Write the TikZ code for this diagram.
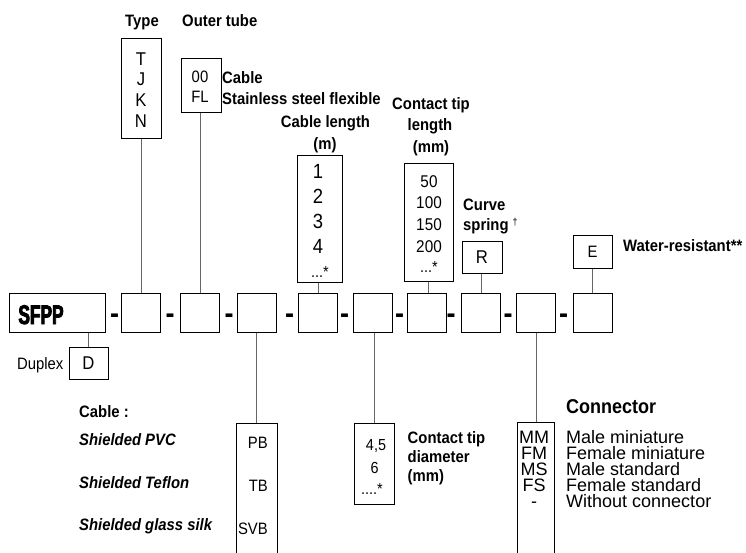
\documentclass[tikz,border=0pt]{standalone}
\usepackage{fontspec}
\setmainfont[FakeStretch=0.9]{Liberation Sans}
\newfontfamily\plainfont{Liberation Sans}
\newfontfamily\sfppfont[FakeStretch=0.64,FakeBold=3]{Liberation Sans}
\begin{document}
\begin{tikzpicture}[x=1pt,y=-1pt,
  box/.style={draw=black,line width=1pt,inner sep=0pt,minimum width=39pt,minimum height=39pt},
  conn/.style={draw=black!60,line width=1pt},
  blab/.style={inner sep=0pt,font=\fontsize{16.5}{16.5}\selectfont\bfseries},
  ilab/.style={inner sep=0pt,font=\fontsize{16.5}{16.5}\selectfont\bfseries\itshape},
  rt/.style={inner sep=0pt,font=\fontsize{#1}{#1}\selectfont},
  dt/.style={inner sep=0pt,font=\plainfont\fontsize{#1}{#1}\selectfont},
  dashmark/.style={inner sep=0pt,font=\fontsize{30}{30}\selectfont\bfseries}]
\useasboundingbox (0,0) rectangle (746,552);

% main row
\node[box,minimum width=96pt] (sfpp) at (57,312.5) {};
\node[inner sep=0pt,font=\sfppfont\fontsize{27}{27}\selectfont\bfseries,anchor=base] (sfpptxt) at (41,324) {SFPP};
\foreach \x [count=\i] in {140.5,199.5,256.5,317.5,372.5,426.5,480.5,536,592.5}
  \node[box] (b\i) at (\x,312.5) {};
\foreach \x [count=\i] in {114.5,170,229,289.5,344.5,399.5,451,508,563.5}
  \node[dashmark,anchor=base] (d\i) at (\x,323) {-};

% option boxes
\node[box,minimum width=40pt,minimum height=100pt] (typebox) at (141,88) {};
\node[box,minimum width=40pt,minimum height=54pt] (tubebox) at (201,85) {};
\node[box,minimum width=45pt,minimum height=127pt] (lenbox) at (319.5,218.5) {};
\node[box,minimum width=49pt,minimum height=118pt] (tipbox) at (428.5,222) {};
\node[box,minimum width=40pt,minimum height=32pt,font=\fontsize{18.5}{18.5}\selectfont] (rbox) at (482,257) {R};
\node[box,minimum width=39pt,minimum height=33pt,font=\fontsize{16.5}{16.5}\selectfont] (ebox) at (592.5,251.5) {E};
\node[box,minimum width=39pt,minimum height=32pt,font=\fontsize{18.5}{18.5}\selectfont] (dbox) at (88.5,363) {D};
\node[box,minimum width=41pt,minimum height=160pt] (cablebox) at (256.5,503) {};
\node[box,minimum width=40pt,minimum height=81pt] (diambox) at (374,463.5) {};
\node[box,minimum width=37pt,minimum height=160pt] (connbox) at (535.5,502) {};

% connectors
\draw[conn] (typebox.south) -- (typebox.south |- b1.north);
\draw[conn] ([xshift=-1pt]tubebox.south) -- ([xshift=-1pt]tubebox.south |- b2.north);
\draw[conn] ([xshift=-1.5pt]lenbox.south) -- ([xshift=-1.5pt]lenbox.south |- b4.north);
\draw[conn] (tipbox.south) -- (tipbox.south |- b6.north);
\draw[conn] ([xshift=-1pt]rbox.south) -- ([xshift=-1pt]rbox.south |- b7.north);
\draw[conn] (ebox.south) -- (ebox.south |- b9.north);
\draw[conn] (dbox.north |- sfpp.south) -- (dbox.north);
\draw[conn] (b3.south) -- (b3.south |- cablebox.north);
\draw[conn] (diambox.north |- b5.south) -- (diambox.north);
\draw[conn] (b8.south) -- (b8.south |- connbox.north);

% top labels
\node[blab,anchor=base] (ltype) at (142,26) {Type};
\node[blab,anchor=base west] (ltube) at (182,26) {Outer tube};
\node[blab,anchor=base west] (lcab) at (222,83) {Cable};
\node[blab,anchor=base west] (lsteel) at (222,104) {Stainless steel flexible};
\node[blab,anchor=base] (llen1) at (325.5,127) {Cable length};
\node[blab,anchor=base] (llen2) at (325,149) {(m)};
\node[blab,anchor=base] (ltip1) at (431,109) {Contact tip};
\node[blab,anchor=base] (ltip2) at (430,130) {length};
\node[blab,anchor=base] (ltip3) at (431,152) {(mm)};
\node[blab,anchor=base west] (lcurve1) at (463,210) {Curve};
\node[blab,anchor=base west] (lcurve2) at (463,230) {spring \raisebox{0.55ex}{\fontsize{10}{10}\selectfont\mdseries †}};
\node[blab,anchor=base west] (lwater) at (623,251) {Water-resistant**};

% box contents
\foreach \t/\y [count=\i] in {T/65,J/85,K/106,N/127}
  \node[rt=18.5,anchor=base] (ty\i) at (141,\y) {\t};
\node[rt=16.5,anchor=base] (tu1) at (200,82) {00};
\node[rt=16.5,anchor=base] (tu2) at (200,102) {FL};
\foreach \t/\y [count=\i] in {1/178,2/203,3/228,4/253}
  \node[rt=20.5,anchor=base] (le\i) at (318,\y) {\t};
\node[rt=16,anchor=base west] (le5) at (311,277) {...*};
\foreach \t/\y [count=\i] in {50/187,100/208,150/230,200/252}
  \node[rt=17,anchor=base] (tl\i) at (429,\y) {\t};
\node[rt=16,anchor=base west] (tl5) at (420,272) {...*};

% duplex
\node[rt=16.5,anchor=base west] (lduplex) at (17,369) {Duplex};

% cable
\node[blab,anchor=base west] (lcable) at (79,417) {Cable :};
\node[ilab,anchor=base west] (lpvc) at (79,445) {Shielded PVC};
\node[ilab,anchor=base west] (ltef) at (79,488) {Shielded Teflon};
\node[ilab,anchor=base west] (lglass) at (79,530) {Shielded glass silk};
\node[rt=16.5,anchor=base east] (cpb) at (268,448) {PB};
\node[rt=16.5,anchor=base east] (ctb) at (268,491) {TB};
\node[rt=16.5,anchor=base east] (csvb) at (268,534) {SVB};

% diameter
\node[rt=16,anchor=base] (di1) at (376,450) {4,5};
\node[rt=16,anchor=base] (di2) at (374.5,473) {6};
\node[rt=16,anchor=base west] (di3) at (361,494) {....*};
\node[blab,anchor=base west] (ldia1) at (407.5,443) {Contact tip};
\node[blab,anchor=base west] (ldia2) at (407.5,462) {diameter};
\node[blab,anchor=base west] (ldia3) at (407.5,481) {(mm)};

% connector
\node[inner sep=0pt,font=\fontsize{20}{20}\selectfont\bfseries,anchor=base west] (lconn) at (566,413) {Connector};
\foreach \c/\d/\y [count=\i] in {MM/Male miniature/443,FM/Female miniature/459.5,MS/Male standard/475,FS/Female standard/491.5,-/Without connector/507}{
  \node[dt=18,anchor=base] (cc\i) at (534,\y) {\c};
  \node[dt=18,anchor=base west] (cd\i) at (566,\y) {\d};
}
\end{tikzpicture}
\end{document}
